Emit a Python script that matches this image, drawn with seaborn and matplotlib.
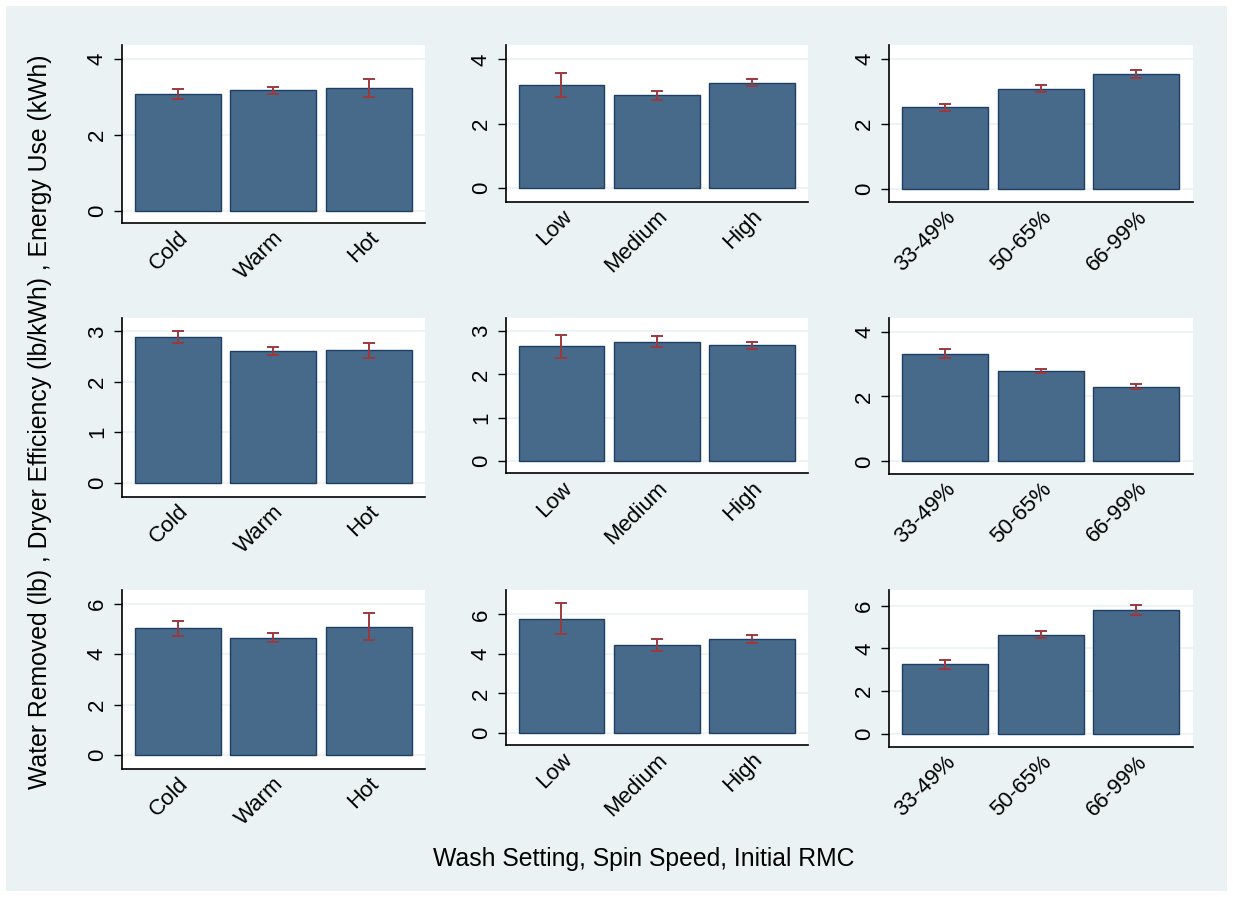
import numpy as np
import pandas as pd
import seaborn as sns
import matplotlib.pyplot as plt
from matplotlib.patches import Rectangle

# categories
wash = ['Cold', 'Warm', 'Hot']
spin = ['Low', 'Medium', 'High']
rmc = ['33-49%', '50-65%', '66-99%']

# energy use (kWh): mean, lower ci, upper ci
energy_wash = [3.07, 3.19, 3.23]
energy_wash_lo = [2.94, 3.09, 2.99]
energy_wash_hi = [3.20, 3.27, 3.48]
energy_spin = [3.19, 2.88, 3.27]
energy_spin_lo = [2.83, 2.72, 3.16]
energy_spin_hi = [3.57, 3.01, 3.40]
energy_rmc = [2.52, 3.09, 3.56]
energy_rmc_lo = [2.40, 2.98, 3.42]
energy_rmc_hi = [2.63, 3.21, 3.67]

# dryer efficiency (lb/kWh)
eff_wash = [2.88, 2.61, 2.62]
eff_wash_lo = [2.77, 2.53, 2.47]
eff_wash_hi = [3.01, 2.68, 2.77]
eff_spin = [2.65, 2.76, 2.68]
eff_spin_lo = [2.38, 2.64, 2.59]
eff_spin_hi = [2.92, 2.89, 2.75]
eff_rmc = [3.32, 2.79, 2.29]
eff_rmc_lo = [3.20, 2.73, 2.22]
eff_rmc_hi = [3.46, 2.86, 2.38]

# water removed (lb)
water_wash = [5.03, 4.65, 5.10]
water_wash_lo = [4.73, 4.48, 4.56]
water_wash_hi = [5.31, 4.85, 5.62]
water_spin = [5.77, 4.43, 4.75]
water_spin_lo = [5.00, 4.14, 4.55]
water_spin_hi = [6.56, 4.75, 4.93]
water_rmc = [3.26, 4.65, 5.81]
water_rmc_lo = [3.06, 4.47, 5.58]
water_rmc_hi = [3.48, 4.82, 6.06]

panels = [
    (wash, energy_wash, energy_wash_lo, energy_wash_hi),
    (spin, energy_spin, energy_spin_lo, energy_spin_hi),
    (rmc, energy_rmc, energy_rmc_lo, energy_rmc_hi),
    (wash, eff_wash, eff_wash_lo, eff_wash_hi),
    (spin, eff_spin, eff_spin_lo, eff_spin_hi),
    (rmc, eff_rmc, eff_rmc_lo, eff_rmc_hi),
    (wash, water_wash, water_wash_lo, water_wash_hi),
    (spin, water_spin, water_spin_lo, water_spin_hi),
    (rmc, water_rmc, water_rmc_lo, water_rmc_hi),
]

yticks = [[0, 2, 4], [0, 2, 4], [0, 2, 4],
          [0, 1, 2, 3], [0, 1, 2, 3], [0, 2, 4],
          [0, 2, 4, 6], [0, 2, 4, 6], [0, 2, 4, 6]]
ylims = [(-0.33, 4.37), (-0.44, 4.45), (-0.40, 4.44),
         (-0.28, 3.27), (-0.29, 3.30), (-0.39, 4.42),
         (-0.56, 6.55), (-0.61, 7.23), (-0.63, 6.74)]

# axes boxes in pixels: left, right, top, bottom
W, H = 1233, 897
cols = [(121.7, 425), (505.7, 808.3), (889, 1192.7)]
boxes_y = [(45, 223.3), (45, 201.7), (45, 202.3),
           (317.7, 496.7), (318.3, 473.3), (318, 474),
           (590, 769), (590, 745), (590, 747.3)]

bg = '#eaf2f3'
bar_color = '#476a8b'
bar_edge = '#1c3f66'
err_color = '#9b3a3f'

sns.set_style('white')
plt.rcParams['font.family'] = ['Liberation Sans', 'DejaVu Sans']
plt.rcParams['text.color'] = 'black'
plt.rcParams['xtick.color'] = 'black'
plt.rcParams['ytick.color'] = 'black'

fig = plt.figure(figsize=(W / 100, H / 100), dpi=100)
fig.patch.set_facecolor('white')
fig.patches.append(Rectangle((6 / W, 6 / H), 1 - 12 / W, 1 - 12 / H,
                             transform=fig.transFigure, facecolor=bg,
                             edgecolor='none', zorder=-10))

for i, (cats, mean, lo, hi) in enumerate(panels):
    l, r = cols[i % 3]
    t, b = boxes_y[i]
    ax = fig.add_axes([l / W, 1 - b / H, (r - l) / W, (b - t) / H])
    ax.set_facecolor('white')
    df = pd.DataFrame({'cat': cats, 'val': mean})
    for yt in yticks[i]:
        ax.axhline(yt, color=bg, lw=1.2, zorder=0)
    sns.barplot(data=df, x='cat', y='val', ax=ax, color=bar_color,
                saturation=1, width=0.9, edgecolor=bar_edge, linewidth=1.0,
                errorbar=None, zorder=2)
    m = np.array(mean)
    yerr = np.vstack([m - np.array(lo), np.array(hi) - m])
    ax.errorbar(np.arange(len(cats)), m, yerr=yerr, fmt='none',
                ecolor=err_color, elinewidth=1.4, capsize=4, capthick=1.4,
                zorder=3)
    ax.set_xlim(-0.585, 2.59)
    ax.set_ylim(*ylims[i])
    ax.set_yticks(yticks[i])
    ax.set_yticklabels([str(v) for v in yticks[i]], rotation=90, va='center')
    ax.set_xlabel('')
    ax.set_ylabel('')
    ax.tick_params(axis='y', length=6, width=1, color='black', labelsize=16,
                   labelcolor='black', pad=4, left=True)
    ax.tick_params(axis='x', length=0, labelsize=16, labelcolor='black', pad=3)
    for lab in ax.get_xticklabels():
        lab.set_rotation(45)
        lab.set_ha('right')
        lab.set_rotation_mode('anchor')
    for s in ['top', 'right']:
        ax.spines[s].set_visible(False)
    for s in ['left', 'bottom']:
        ax.spines[s].set_color('black')
        ax.spines[s].set_linewidth(1.2)

fig.text(40 / W, 1 - 422 / H,
         'Water Removed (lb) , Dryer Efficiency (lb/kWh) , Energy Use (kWh)',
         rotation=90, ha='center', va='center', fontsize=17.8, color='black')
fig.text(644 / W, 1 - 859 / H, 'Wash Setting, Spin Speed, Initial RMC',
         ha='center', va='center', fontsize=17.8, color='black')

fig.savefig('out.png', dpi=100, facecolor=fig.get_facecolor())
